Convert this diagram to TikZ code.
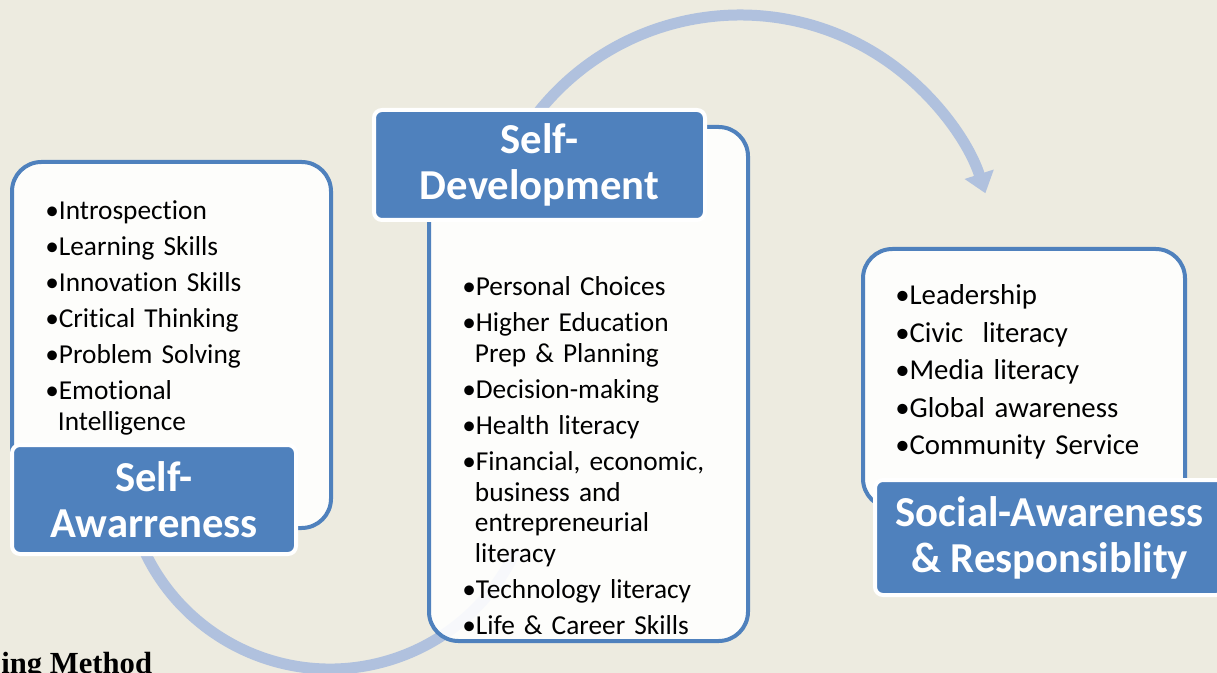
\documentclass[tikz,border=0pt]{standalone}
\usepackage{fontspec}
\setmainfont{Carlito}[Ligatures=CommonOff]
\newfontfamily\methodfont{Liberation Serif}
\usetikzlibrary{arrows.meta}
\definecolor{bg}{RGB}{237,235,224}
\definecolor{accent}{RGB}{79,129,189}
\definecolor{arcblue}{RGB}{176,193,222}
\begin{document}
\begin{tikzpicture}[x=0.75pt,y=-0.75pt,
  contentbox/.style={draw=accent, line width=3pt, fill=white, fill opacity=0.9, draw opacity=1, rounded corners=22pt, inner sep=0pt},
  titlebox/.style={draw=white, line width=3pt, fill=accent, rounded corners=6pt, inner sep=0pt, text=white, align=center, font=\fontsize{32pt}{34.5pt}\selectfont\bfseries},
  listtext/.style={anchor=base west, inner sep=0pt, align=left, text width=260pt, font=\fontsize{20.5pt}{22.9pt}\selectfont},
  biglist/.style={listtext, font=\fontsize{21.6pt}{24pt}\selectfont},
  cyclearc/.style={draw=arcblue, line width=8.25pt}
]
\fill[bg] (0,0) rectangle (1217,673);
\useasboundingbox (0,0) rectangle (1217,673);
\clip (0,0) rectangle (1217,673);

% arc centres
\coordinate (lowc) at (330,464);
\coordinate (topc) at (740,273);

% cycle arcs
\draw[cyclearc] (lowc) ++(200:153.75pt) arc[start angle=200, end angle=335, radius=153.75pt];
\draw[cyclearc, -{Triangle[length=15pt,width=22pt]}] (topc) ++(143:193.5pt) arc[start angle=143, end angle=18, radius=193.5pt];

% Self-Awareness
\node[contentbox, minimum width=239.25pt, minimum height=274.5pt] (sabox) at (171.5,345) {};
\node[listtext] (salist) at (45,220) {•Introspection\\[4.1pt]
•Learning Skills\\[4.1pt]
•Innovation Skills\\[4.1pt]
•Critical Thinking\\[4.1pt]
•Problem Solving\\[4.1pt]
•Emotional\\
\hspace{9.5pt}Intelligence};
\node[titlebox, minimum width=213pt, minimum height=81.75pt] (salabel) at (154,499.5) {Self-\\Awarreness};

% Self-Development
\node[contentbox, minimum width=239.25pt, minimum height=385.5pt] (sdbox) at (588.5,384) {};
\node[titlebox, minimum width=248.25pt, minimum height=82.5pt] (sdlabel) at (539.5,165) {Self-\\Development};
\node[listtext] (sdlist) at (462,296) {•Personal Choices\\[4.1pt]
•Higher Education\\
\hspace{9.5pt}Prep \& Planning\\[4.1pt]
•Decision-making\\[4.1pt]
•Health literacy\\[4.1pt]
•Financial, economic,\\
\hspace{9.5pt}business and\\
\hspace{9.5pt}entrepreneurial\\
\hspace{9.5pt}literacy\\[4.1pt]
•Technology literacy\\[4.1pt]
•Life \& Career Skills};

% Social-Awareness
\node[contentbox, minimum width=241.5pt, minimum height=194.25pt] (srbox) at (1024,378.5) {};
\node[biglist] (srlist) at (895,305) {•Leadership\\[4.1pt]
•Civic\ \ literacy\\[4.1pt]
•Media literacy\\[4.1pt]
•Global awareness\\[4.1pt]
•Community Service};
\node[titlebox, minimum width=261.75pt, minimum height=86.25pt] (srlabel) at (1049.5,537.5) {Social-Awareness\\\& Responsiblity};

% cut-off caption
\node[anchor=base west, inner sep=0pt, font=\methodfont\bfseries\fontsize{23pt}{25pt}\selectfont] (method) at (1,673) {ing Method};
\end{tikzpicture}
\end{document}
